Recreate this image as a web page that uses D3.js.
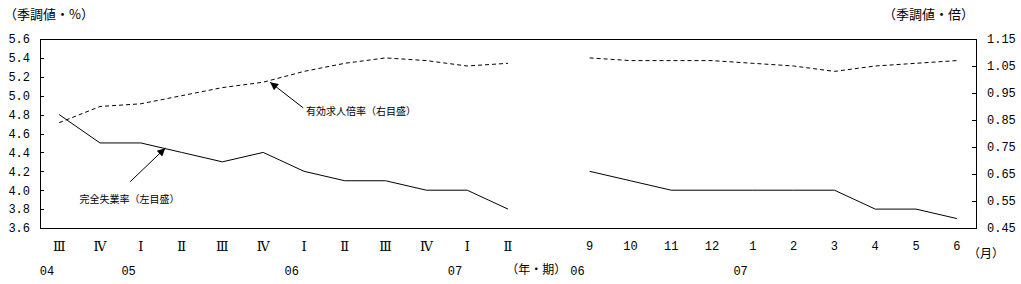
<!DOCTYPE html>
<html>
<head>
<meta charset="utf-8">
<script src="https://cdn.jsdelivr.net/npm/d3@7"></script>
<style>
  body { margin: 0; background: #fff; }
  svg { display: block; }
  .num { font-family: 'Liberation Mono', monospace; font-size: 12px; }
  .jp { font-family: 'Noto Sans CJK JP', sans-serif; }
  .roman { font-family: 'DejaVu Serif', serif; font-size: 13px; }
</style>
</head>
<body>
<div id="chart"></div>
<script>
// quarterly part (2004 III - 2007 II)
const quarterLabels = ['Ⅲ', 'Ⅳ', 'Ⅰ', 'Ⅱ', 'Ⅲ', 'Ⅳ', 'Ⅰ', 'Ⅱ', 'Ⅲ', 'Ⅳ', 'Ⅰ', 'Ⅱ']
const quarterYears = [{ i: 0, label: '04' }, { i: 2, label: '05' }, { i: 6, label: '06' }, { i: 10, label: '07' }]
// monthly part (2006/9 - 2007/6)
const monthLabels = ['9', '10', '11', '12', '1', '2', '3', '4', '5', '6']
const monthYears = [{ i: 0, label: '06' }, { i: 4, label: '07' }]

// 完全失業率 (%), left axis
const unempQ = [4.8, 4.5, 4.5, 4.4, 4.3, 4.4, 4.2, 4.1, 4.1, 4.0, 4.0, 3.8]
const unempM = [4.2, 4.1, 4.0, 4.0, 4.0, 4.0, 4.0, 3.8, 3.8, 3.7]
// 有効求人倍率 (倍), right axis
const ratioQ = [0.84, 0.90, 0.91, 0.94, 0.97, 0.99, 1.03, 1.06, 1.08, 1.07, 1.05, 1.06]
const ratioM = [1.08, 1.07, 1.07, 1.07, 1.06, 1.05, 1.03, 1.05, 1.06, 1.07]

const leftTicks = [3.6, 3.8, 4.0, 4.2, 4.4, 4.6, 4.8, 5.0, 5.2, 5.4, 5.6]
const rightTicks = [0.45, 0.55, 0.65, 0.75, 0.85, 0.95, 1.05, 1.15]

const W = 1021
const H = 284
const plot = { left: 40, right: 976, top: 39, bottom: 228 }

const svg = d3
  .select('#chart')
  .append('svg')
  .attr('width', W)
  .attr('height', H)

// one slot per period, one empty slot between the quarterly and monthly parts
const gap = quarterLabels.length
const monthStart = gap + 1
const nSlots = monthStart + monthLabels.length

const x = d3
  .scaleLinear()
  .domain([-0.47, nSlots - 1 + 0.47])
  .range([plot.left, plot.right])

const yL = d3.scaleLinear().domain([3.6, 5.6]).range([plot.bottom, plot.top])
const yR = d3.scaleLinear().domain([0.45, 1.15]).range([plot.bottom, plot.top])

// frame
svg
  .append('rect')
  .attr('x', plot.left)
  .attr('y', plot.top)
  .attr('width', plot.right - plot.left)
  .attr('height', plot.bottom - plot.top)
  .attr('fill', 'none')
  .attr('stroke', '#000')
  .attr('shape-rendering', 'crispEdges')

// left axis
const leftAxis = svg
  .append('g')
  .attr('class', 'num')
  .attr('transform', 'translate(' + plot.left + ',0)')
  .call(
    d3.axisLeft(yL)
      .tickValues(leftTicks)
      .tickFormat(d3.format('.1f'))
      .tickSizeInner(-4)
      .tickSizeOuter(0)
      .tickPadding(10)
  )
leftAxis.select('.domain').remove()
leftAxis.selectAll('text').attr('font-family', null).attr('font-size', null).attr('fill', '#000')
leftAxis.selectAll('line').attr('shape-rendering', 'crispEdges')

// right axis
const rightAxis = svg
  .append('g')
  .attr('class', 'num')
  .attr('transform', 'translate(' + plot.right + ',0)')
  .call(
    d3.axisRight(yR)
      .tickValues(rightTicks)
      .tickFormat(d3.format('.2f'))
      .tickSizeInner(-4)
      .tickSizeOuter(0)
      .tickPadding(11)
  )
rightAxis.select('.domain').remove()
rightAxis.selectAll('text').attr('font-family', null).attr('font-size', null).attr('fill', '#000')
rightAxis.selectAll('line').attr('shape-rendering', 'crispEdges')

// unit labels
svg.append('text')
  .attr('class', 'jp')
  .attr('x', 4)
  .attr('y', 19)
  .attr('font-size', 13)
  .text('（季調値・%）')

svg.append('text')
  .attr('class', 'jp')
  .attr('x', 974)
  .attr('y', 19)
  .attr('font-size', 13)
  .attr('text-anchor', 'end')
  .text('（季調値・倍）')

// x labels
const periodRow = 250
const yearRow = 275
const step = x(1) - x(0)

svg.selectAll('.q-label')
  .data(quarterLabels)
  .enter()
  .append('text')
  .attr('class', 'q-label roman')
  .attr('x', (d, i) => x(i))
  .attr('y', periodRow + 1)
  .attr('text-anchor', 'middle')
  .text(d => d)

svg.selectAll('.m-label')
  .data(monthLabels)
  .enter()
  .append('text')
  .attr('class', 'm-label num')
  .attr('x', (d, i) => x(monthStart + i))
  .attr('y', periodRow)
  .attr('text-anchor', 'middle')
  .text(d => d)

svg.selectAll('.q-year')
  .data(quarterYears)
  .enter()
  .append('text')
  .attr('class', 'q-year num')
  .attr('x', d => x(d.i) - step / 2 + 1)
  .attr('y', yearRow)
  .text(d => d.label)

svg.selectAll('.m-year')
  .data(monthYears)
  .enter()
  .append('text')
  .attr('class', 'm-year num')
  .attr('x', d => x(monthStart + d.i) - step / 2 + 1)
  .attr('y', yearRow)
  .text(d => d.label)

svg.append('text')
  .attr('class', 'jp')
  .attr('x', x(gap) + step / 2 - 3)
  .attr('y', yearRow - 1)
  .attr('font-size', 12)
  .attr('text-anchor', 'end')
  .text('（年・期）')

svg.append('text')
  .attr('class', 'jp')
  .attr('x', plot.right - 8)
  .attr('y', periodRow + 8)
  .attr('font-size', 12)
  .text('（月）')

// lines
const lineL = d3.line().x(d => x(d.i)).y(d => yL(d.v))
const lineR = d3.line().x(d => x(d.i)).y(d => yR(d.v))

const segments = [
  { vals: unempQ, start: 0, line: lineL, dash: null },
  { vals: unempM, start: monthStart, line: lineL, dash: null },
  { vals: ratioQ, start: 0, line: lineR, dash: '4,3' },
  { vals: ratioM, start: monthStart, line: lineR, dash: '4,3' }
]

segments.forEach(s => {
  svg.append('path')
    .datum(s.vals.map((v, k) => ({ i: s.start + k, v: v })))
    .attr('d', s.line)
    .attr('fill', 'none')
    .attr('stroke', '#000')
    .attr('stroke-width', 1)
    .attr('stroke-dasharray', s.dash)
})

// annotations
svg.append('defs')
  .append('marker')
  .attr('id', 'head')
  .attr('viewBox', '0 0 10 10')
  .attr('refX', 10)
  .attr('refY', 5)
  .attr('markerWidth', 11)
  .attr('markerHeight', 8)
  .attr('markerUnits', 'userSpaceOnUse')
  .attr('orient', 'auto')
  .append('path')
  .attr('d', 'M0,0L10,5L0,10Z')
  .attr('fill', '#000')

// 有効求人倍率 arrow: from the label up to the dotted line near 05 IV
svg.append('line')
  .attr('x1', x(5.98))
  .attr('y1', yR(0.895))
  .attr('x2', x(5.17))
  .attr('y2', yR(0.99))
  .attr('stroke', '#000')
  .attr('marker-end', 'url(#head)')

svg.append('text')
  .attr('class', 'jp')
  .attr('x', x(6.05))
  .attr('y', yR(0.895) + 7)
  .attr('font-size', 10)
  .text('有効求人倍率（右目盛）')

// 完全失業率 arrow: from the label up to the solid line near 05 II
svg.append('line')
  .attr('x1', x(1.74))
  .attr('y1', yL(4.09))
  .attr('x2', x(2.6))
  .attr('y2', yL(4.445))
  .attr('stroke', '#000')
  .attr('marker-end', 'url(#head)')

svg.append('text')
  .attr('class', 'jp')
  .attr('x', x(0.5))
  .attr('y', yL(3.905) + 4)
  .attr('font-size', 10)
  .text('完全失業率（左目盛）')
</script>
</body>
</html>
